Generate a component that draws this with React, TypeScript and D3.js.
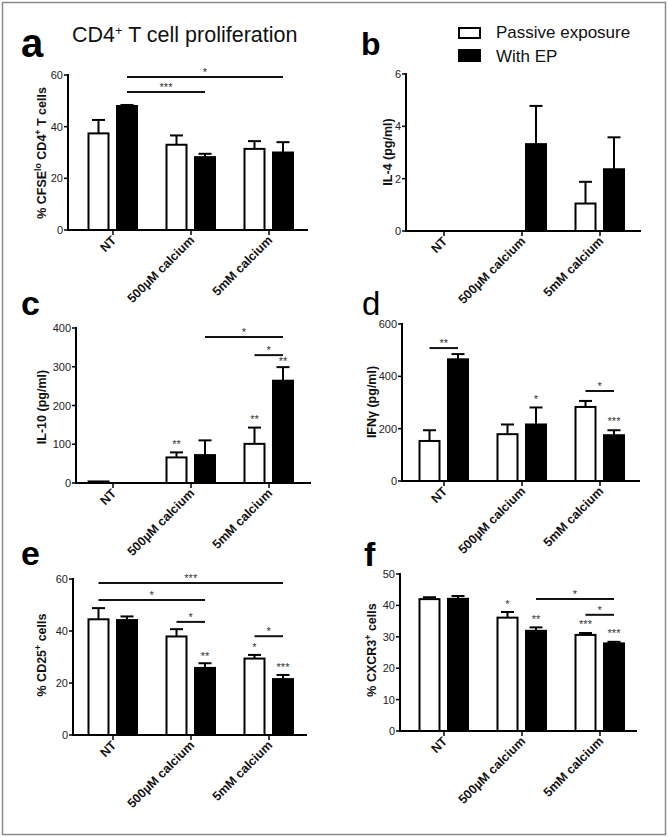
import React from "react";
import * as d3 from "d3";

// ---------- data ----------
const categories = ["NT", "500µM calcium", "5mM calcium"];
const seriesNames = ["Passive exposure", "With EP"];

const cfsePassive = [37.4, 33.0, 31.4];
const cfsePassiveErr = [5.2, 3.6, 3.0];
const cfseEP = [48.0, 28.2, 30.0];
const cfseEPErr = [0.4, 1.3, 4.0];

const il4Passive = [0, 0, 1.05];
const il4PassiveErr = [0, 0, 0.83];
const il4EP = [0, 3.32, 2.36];
const il4EPErr = [0, 1.46, 1.22];

const il10Passive = [4, 66, 101];
const il10PassiveErr = [0, 13, 42];
const il10EP = [0, 72, 264];
const il10EPErr = [0, 38, 35];

const ifngPassive = [153, 179, 283];
const ifngPassiveErr = [41, 37, 23];
const ifngEP = [465, 216, 175];
const ifngEPErr = [20, 65, 19];

const cd25Passive = [44.5, 37.9, 29.4];
const cd25PassiveErr = [4.3, 2.8, 1.4];
const cd25EP = [44.2, 25.8, 21.5];
const cd25EPErr = [1.4, 1.8, 1.6];

const cxcr3Passive = [42.0, 36.1, 30.6];
const cxcr3PassiveErr = [0.6, 1.8, 0.6];
const cxcr3EP = [42.1, 31.9, 27.9];
const cxcr3EPErr = [0.9, 1.1, 0.5];

const ticksA = [0, 20, 40, 60];
const ticksB = [0, 2, 4, 6];
const ticksC = [0, 100, 200, 300, 400];
const ticksD = [0, 200, 400, 600];
const ticksE = [0, 20, 40, 60];
const ticksF = [0, 10, 20, 30, 40, 50];

// significance brackets: [fromGroup, fromSeries, toGroup, toSeries, value, label]
const sigA = [[0, 1, 1, 1, 53.4, "***"], [0, 1, 2, 1, 59.2, "*"]];
const sigB: any[] = [];
const sigC = [[1, 1, 2, 1, 377, "*"], [2, 0, 2, 1, 330, "*"]];
const sigD = [[0, 0, 0, 1, 508, "**"], [2, 0, 2, 1, 344, "*"]];
const sigE = [[0, 0, 2, 1, 58.5, "***"], [0, 0, 1, 1, 51.9, "*"], [1, 0, 1, 1, 43.5, "*"], [2, 0, 2, 1, 38, "*"]];
const sigF = [[1, 1, 2, 1, 42, "*"], [2, 0, 2, 1, 37, "*"]];

// star annotations over single bars: [group, series, value, label]
const starsA: any[] = [];
const starsB: any[] = [];
const starsC = [[1, 0, 103, "**"], [2, 0, 168, "**"], [2, 1, 317, "**"]];
const starsD = [[1, 1, 317, "*"], [2, 1, 233, "***"]];
const starsE = [[1, 1, 30.8, "**"], [2, 0, 34.2, "*"], [2, 1, 26.5, "***"]];
const starsF = [[1, 0, 40.8, "*"], [1, 1, 36, "**"], [2, 0, 34.4, "***"], [2, 1, 31.5, "***"]];

const FONT = "Liberation Sans, Arial, sans-serif";

type PanelProps = {
  letter: string;
  letterSize: number;
  letterWeight: string;
  letterX: number;
  letterY: number;
  axisX: number;
  axisEnd: number;
  bandRange: [number, number];
  y0: number;
  yTop: number;
  yMax: number;
  ticks: number[];
  passive: number[];
  passiveErr: number[];
  ep: number[];
  epErr: number[];
  sig: any[];
  stars: any[];
  labelX: number;
  labelY: number;
  ylabel: React.ReactNode;
};

function Panel(p: PanelProps) {
  const x = d3.scaleBand<string>().domain(categories).range(p.bandRange).paddingInner(0).paddingOuter(0);
  const y = d3.scaleLinear().domain([0, p.yMax]).range([p.y0, p.yTop]);
  const cx = (g: number) => (x(categories[g]) as number) + x.bandwidth() / 2;
  const barW = 20;
  const barX = (g: number, s: number) => (s === 0 ? cx(g) - 24.5 : cx(g) + 4);
  const barC = (g: number, s: number) => barX(g, s) + barW / 2;
  const vals = [p.passive, p.ep];
  const errs = [p.passiveErr, p.epErr];
  return (
    <g>
      <text x={p.letterX} y={p.letterY} fontFamily={FONT} fontWeight={p.letterWeight} fontSize={p.letterSize} fill="#000">
        {p.letter}
      </text>
      {/* bars */}
      {[0, 1].map((s) =>
        categories.map((c, g) => {
          const v = vals[s][g];
          const top = y(v);
          const e = errs[s][g];
          return (
            <g key={`${s}-${g}`}>
              {e > 0 && (
                <g stroke="#000" strokeWidth={2}>
                  <line x1={barC(g, s)} x2={barC(g, s)} y1={top} y2={y(v + e)} />
                  <line x1={barC(g, s) - 6.5} x2={barC(g, s) + 6.5} y1={y(v + e)} y2={y(v + e)} />
                </g>
              )}
              <rect
                x={barX(g, s)}
                y={top}
                width={barW}
                height={Math.max(0, p.y0 - top)}
                fill={s === 0 ? "#fff" : "#000"}
                stroke="#000"
                strokeWidth={2}
              />
            </g>
          );
        })
      )}
      {/* y axis */}
      <line x1={p.axisX} x2={p.axisX} y1={p.yTop - 1} y2={p.y0 + 1} stroke="#000" strokeWidth={2} />
      {p.ticks.map((t) => (
        <g key={t}>
          <line x1={p.axisX - 4} x2={p.axisX} y1={y(t)} y2={y(t)} stroke="#000" strokeWidth={1.5} />
          <text x={p.axisX - 5} y={y(t) + 4} textAnchor="end" fontFamily={FONT} fontSize={11} fill="#222">
            {t}
          </text>
        </g>
      ))}
      {/* x axis */}
      <line x1={p.axisX - 1} x2={p.axisEnd} y1={p.y0} y2={p.y0} stroke="#000" strokeWidth={2} />
      {categories.map((c, g) => (
        <g key={c}>
          <line x1={cx(g)} x2={cx(g)} y1={p.y0} y2={p.y0 + 5} stroke="#000" strokeWidth={1.5} />
          <text
            transform={`translate(${cx(g) + 4},${p.y0 + 11}) rotate(-45)`}
            textAnchor="end"
            fontFamily={FONT}
            fontWeight="bold"
            fontSize={12.5}
            fill="#111"
          >
            {c}
          </text>
        </g>
      ))}
      {/* y label */}
      <text
        transform={`translate(${p.labelX + 4},${p.labelY}) rotate(-90)`}
        textAnchor="middle"
        fontFamily={FONT}
        fontWeight="bold"
        fontSize={12.5}
        fill="#111"
      >
        {p.ylabel}
      </text>
      {/* significance lines */}
      {p.sig.map((sg, i) => {
        const x1 = barC(sg[0], sg[1]);
        const x2 = barC(sg[2], sg[3]);
        const yy = y(sg[4]);
        return (
          <g key={`sig${i}`}>
            <line x1={x1} x2={x2} y1={yy} y2={yy} stroke="#111" strokeWidth={2} />
            <text x={(x1 + x2) / 2} y={yy - 1} textAnchor="middle" fontFamily={FONT} fontSize={11} fill="#333">
              {sg[5]}
            </text>
          </g>
        );
      })}
      {p.stars.map((st, i) => (
        <text
          key={`st${i}`}
          x={barC(st[0], st[1])}
          y={y(st[2]) + 5}
          textAnchor="middle"
          fontFamily={FONT}
          fontSize={11}
          fill="#333"
        >
          {st[3]}
        </text>
      ))}
    </g>
  );
}

const sup = (t: string) => (
  <tspan baselineShift="super" fontSize="70%">
    {t}
  </tspan>
);

export default function App() {
  const left: [number, number] = [74, 308];
  const right: [number, number] = [405, 639];
  return (
    <svg width={669} height={837} style={{ position: "absolute", left: 0, top: 0, background: "#fff" }}>
      <rect x={0} y={0} width={669} height={837} fill="#fff" />
      <rect x={2.5} y={2.5} width={663} height={832} fill="none" stroke="#8a8a8a" strokeWidth={1.5} />
      {/* title */}
      <text x={72} y={42} fontFamily={FONT} fontSize={21.5} fill="#111">
        CD4
        <tspan baselineShift="super" fontSize="60%">+</tspan> T cell proliferation
      </text>
      {/* legend */}
      <rect x={459} y={28} width={21} height={10} fill="#fff" stroke="#000" strokeWidth={2} />
      <rect x={458} y={49} width={23} height={13} fill="#000" />
      <text x={496} y={37.5} fontFamily={FONT} fontSize={17} fill="#111">
        {seriesNames[0]}
      </text>
      <text x={496} y={62} fontFamily={FONT} fontSize={17} fill="#111">
        {seriesNames[1]}
      </text>

      <Panel
        letter="a" letterSize={40} letterWeight="bold" letterX={21} letterY={57}
        axisX={68} axisEnd={308} bandRange={left} y0={230} yTop={75} yMax={60} ticks={ticksA}
        passive={cfsePassive} passiveErr={cfsePassiveErr} ep={cfseEP} epErr={cfseEPErr}
        sig={sigA} stars={starsA} labelX={42} labelY={153}
        ylabel={<>% CFSE{sup("lo")} CD4{sup("+")} T cells</>}
      />
      <Panel
        letter="b" letterSize={32} letterWeight="bold" letterX={361} letterY={55}
        axisX={406} axisEnd={641} bandRange={right} y0={231} yTop={74} yMax={6} ticks={ticksB}
        passive={il4Passive} passiveErr={il4PassiveErr} ep={il4EP} epErr={il4EPErr}
        sig={sigB} stars={starsB} labelX={388} labelY={152}
        ylabel={<>IL-4 (pg/ml)</>}
      />
      <Panel
        letter="c" letterSize={34} letterWeight="bold" letterX={21} letterY={315}
        axisX={76} axisEnd={311} bandRange={left} y0={483} yTop={328} yMax={400} ticks={ticksC}
        passive={il10Passive} passiveErr={il10PassiveErr} ep={il10EP} epErr={il10EPErr}
        sig={sigC} stars={starsC} labelX={42} labelY={407}
        ylabel={<>IL-10 (pg/ml)</>}
      />
      <Panel
        letter="d" letterSize={33} letterWeight="normal" letterX={362} letterY={315}
        axisX={402} axisEnd={640} bandRange={right} y0={481} yTop={324} yMax={600} ticks={ticksD}
        passive={ifngPassive} passiveErr={ifngPassiveErr} ep={ifngEP} epErr={ifngEPErr}
        sig={sigD} stars={starsD} labelX={372} labelY={402}
        ylabel={<>IFNγ (pg/ml)</>}
      />
      <Panel
        letter="e" letterSize={34} letterWeight="bold" letterX={21} letterY={565}
        axisX={73} axisEnd={307} bandRange={left} y0={735} yTop={579} yMax={60} ticks={ticksE}
        passive={cd25Passive} passiveErr={cd25PassiveErr} ep={cd25EP} epErr={cd25EPErr}
        sig={sigE} stars={starsE} labelX={42} labelY={655}
        ylabel={<>% CD25{sup("+")} cells</>}
      />
      <Panel
        letter="f" letterSize={34} letterWeight="bold" letterX={364} letterY={566}
        axisX={400} axisEnd={637} bandRange={right} y0={731} yTop={574} yMax={50} ticks={ticksF}
        passive={cxcr3Passive} passiveErr={cxcr3PassiveErr} ep={cxcr3EP} epErr={cxcr3EPErr}
        sig={sigF} stars={starsF} labelX={372} labelY={650}
        ylabel={<>% CXCR3{sup("+")} cells</>}
      />
    </svg>
  );
}
